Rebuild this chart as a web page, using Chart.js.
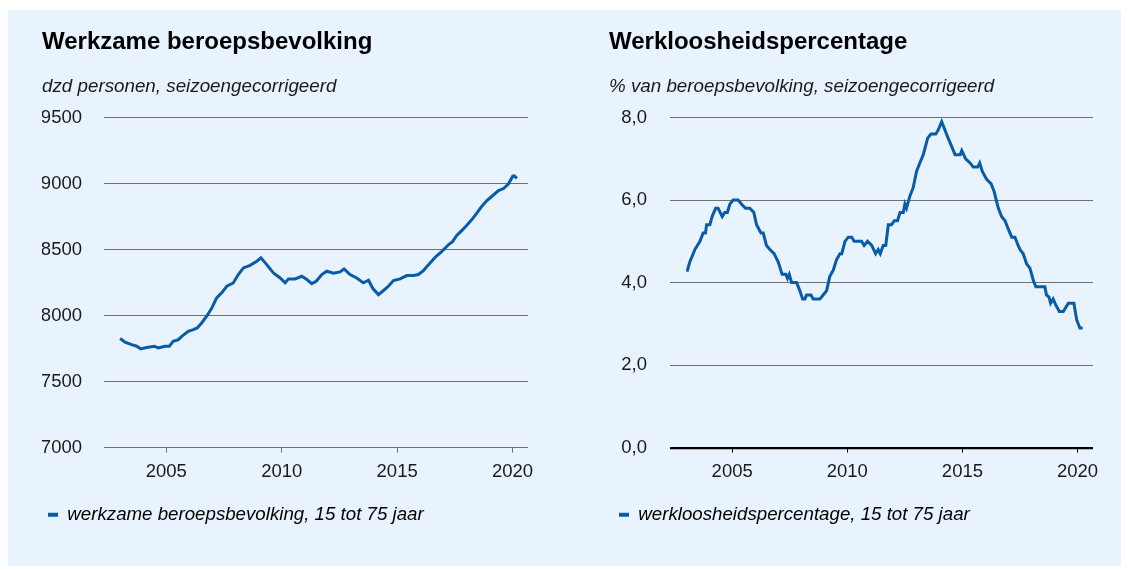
<!DOCTYPE html>
<html lang="nl">
<head>
<meta charset="utf-8">
<script src="https://cdn.jsdelivr.net/npm/chart.js@4"></script>
<style>
    body { margin: 0; background: #ffffff; }
    #paneel { position: absolute; left: 8px; top: 10px; width: 1113px; height: 556px; background: #e9f3fd; }
    canvas { position: absolute; top: 10px; }
    #links { left: 8px; }
    #rechts { left: 564px; }
</style>
</head>
<body>
<div id="paneel"></div>
<canvas id="links" width="556" height="556"></canvas>
<canvas id="rechts" width="557" height="556"></canvas>
<script>
// Werkzame beroepsbevolking (x 1000), tijd als decimaal jaartal
const jarenWerkzaam = [
    2003.00, 2003.21, 2003.50, 2003.72, 2003.89, 2004.15, 2004.48, 2004.65, 2004.94, 2005.13,
    2005.30, 2005.52, 2005.67, 2005.95, 2006.17, 2006.34, 2006.53, 2006.75, 2006.97, 2007.18,
    2007.40, 2007.62, 2007.90, 2008.12, 2008.34, 2008.63, 2008.92, 2009.10, 2009.35, 2009.64,
    2009.93, 2010.15, 2010.29, 2010.58, 2010.87, 2011.09, 2011.30, 2011.49, 2011.74, 2011.95,
    2012.24, 2012.53, 2012.70, 2012.96, 2013.25, 2013.54, 2013.76, 2013.95, 2014.19, 2014.41,
    2014.62, 2014.84, 2015.13, 2015.42, 2015.71, 2015.92, 2016.14, 2016.36, 2016.65, 2016.94,
    2017.23, 2017.40, 2017.59, 2017.80, 2018.02, 2018.24, 2018.46, 2018.67, 2018.89, 2019.11,
    2019.39, 2019.61, 2019.82, 2020.01, 2020.08, 2020.19
];
const werkzaam = [
    7826, 7798, 7780, 7768, 7748, 7758, 7768, 7755, 7768, 7768,
    7806, 7818, 7843, 7881, 7894, 7906, 7944, 7995, 8058, 8134,
    8172, 8222, 8247, 8311, 8361, 8381, 8412, 8437, 8386, 8323,
    8285, 8248, 8278, 8278, 8298, 8273, 8242, 8260, 8311, 8336,
    8321, 8331, 8354, 8311, 8285, 8248, 8268, 8205, 8159, 8190,
    8222, 8265, 8278, 8303, 8303, 8311, 8341, 8386, 8442, 8487,
    8538, 8560, 8609, 8644, 8684, 8727, 8778, 8828, 8871, 8904,
    8947, 8962, 8997, 9056, 9058, 9038
];

// Werkloosheidspercentage
const jarenWerkloos = [
    2003.00, 2003.06, 2003.16, 2003.38, 2003.60, 2003.74, 2003.84, 2003.89, 2004.03, 2004.13,
    2004.28, 2004.39, 2004.57, 2004.68, 2004.79, 2004.90, 2005.04, 2005.26, 2005.41, 2005.58,
    2005.77, 2005.94, 2006.06, 2006.25, 2006.35, 2006.49, 2006.64, 2006.82, 2007.00, 2007.17,
    2007.33, 2007.40, 2007.48, 2007.58, 2007.80, 2007.94, 2008.06, 2008.16, 2008.23, 2008.42,
    2008.52, 2008.81, 2008.95, 2009.10, 2009.24, 2009.39, 2009.53, 2009.68, 2009.76, 2009.90,
    2010.04, 2010.19, 2010.30, 2010.62, 2010.73, 2010.88, 2011.06, 2011.23, 2011.34, 2011.43,
    2011.56, 2011.67, 2011.78, 2011.92, 2012.04, 2012.18, 2012.29, 2012.43, 2012.50, 2012.57,
    2012.72, 2012.86, 2013.01, 2013.15, 2013.30, 2013.49, 2013.63, 2013.84, 2013.95, 2014.10,
    2014.24, 2014.38, 2014.53, 2014.68, 2014.90, 2014.97, 2015.14, 2015.33, 2015.47, 2015.66,
    2015.75, 2015.86, 2016.05, 2016.24, 2016.38, 2016.56, 2016.70, 2016.85, 2016.99, 2017.14,
    2017.28, 2017.42, 2017.50, 2017.64, 2017.79, 2017.93, 2018.08, 2018.19, 2018.44, 2018.58,
    2018.65, 2018.76, 2018.83, 2018.94, 2019.06, 2019.21, 2019.38, 2019.60, 2019.84, 2019.96,
    2020.10, 2020.22
];
const werkloos = [
    4.3, 4.3, 4.5, 4.8, 5.0, 5.2, 5.2, 5.4, 5.4, 5.6,
    5.8, 5.8, 5.6, 5.7, 5.7, 5.9, 6.0, 6.0, 5.9, 5.8,
    5.8, 5.7, 5.4, 5.2, 5.2, 4.9, 4.8, 4.7, 4.5, 4.2,
    4.2, 4.1, 4.2, 4.0, 4.0, 3.8, 3.6, 3.6, 3.7, 3.7,
    3.6, 3.6, 3.7, 3.8, 4.15, 4.3, 4.55, 4.7, 4.7, 5.0,
    5.1, 5.1, 5.0, 5.0, 4.9, 5.0, 4.9, 4.7, 4.8, 4.7,
    4.9, 4.9, 5.4, 5.4, 5.5, 5.5, 5.7, 5.7, 5.9, 5.8,
    6.1, 6.3, 6.7, 6.9, 7.1, 7.5, 7.6, 7.6, 7.7, 7.9,
    7.7, 7.5, 7.3, 7.1, 7.1, 7.2, 7.0, 6.9, 6.8, 6.8,
    6.9, 6.7, 6.5, 6.4, 6.2, 5.8, 5.6, 5.5, 5.3, 5.1,
    5.1, 4.9, 4.8, 4.7, 4.45, 4.35, 4.05, 3.9, 3.9, 3.9,
    3.7, 3.65, 3.5, 3.6, 3.45, 3.3, 3.3, 3.5, 3.5, 3.1,
    2.9, 2.9
];

const jaarTicks = [2005, 2010, 2015, 2020];
const werkzaamTicks = [7000, 7500, 8000, 8500, 9000, 9500];
const werkloosTicks = [0, 2, 4, 6, 8];

const LIJN = '#085ca7';
const RASTER = '#707070';
const TEKST = '#1a1a1a';

Chart.defaults.font.family = "'Liberation Sans', Arial, Helvetica, sans-serif";
Chart.defaults.color = TEKST;

// Grafiek opbouwen
function maakGrafiek(id, cfg) {
    const punten = cfg.jaren.map((j, i) => ({ x: j, y: cfg.waarden[i] }));
    return new Chart(document.getElementById(id), {
        type: 'line',
        data: {
            datasets: [{
                label: cfg.legenda,
                data: punten,
                borderColor: LIJN,
                backgroundColor: LIJN,
                borderWidth: 3,
                pointRadius: 0,
                tension: 0
            }]
        },
        options: {
            responsive: false,
            animation: false,
            devicePixelRatio: 1,
            layout: { padding: { left: cfg.links, right: cfg.rechts, top: 0, bottom: 32 } },
            plugins: {
                tooltip: { enabled: false },
                title: {
                    display: true,
                    text: cfg.titel,
                    align: 'start',
                    color: '#000',
                    font: { size: 24, weight: 'bold' },
                    padding: { top: 17.6, bottom: 19.2 }
                },
                subtitle: {
                    display: true,
                    text: cfg.ondertitel,
                    align: 'start',
                    color: TEKST,
                    font: { size: 18.8, style: 'italic' },
                    padding: { top: 0, bottom: 19.4 }
                },
                legend: {
                    position: 'bottom',
                    align: 'start',
                    labels: {
                        padding: cfg.legPad,
                        boxWidth: 10,
                        boxHeight: 4,
                        color: TEKST,
                        font: { size: 18.7, style: 'italic' },
                        generateLabels: () => [{
                            text: cfg.legenda,
                            fillStyle: LIJN,
                            strokeStyle: LIJN,
                            lineWidth: 0,
                            hidden: false,
                            datasetIndex: 0
                        }]
                    }
                }
            },
            scales: {
                x: {
                    type: 'linear',
                    min: 2002.3,
                    max: 2020.67,
                    border: { display: false },
                    grid: {
                        drawOnChartArea: false,
                        drawTicks: true,
                        tickLength: 5,
                        color: cfg.tickKleur
                    },
                    ticks: {
                        padding: 8,
                        font: { size: 18.5 },
                        color: TEKST,
                        callback: v => String(v)
                    },
                    afterBuildTicks: as => { as.ticks = jaarTicks.map(v => ({ value: v })); },
                    afterFit: as => { as.height = cfg.xHoogte; }
                },
                y: {
                    min: cfg.yTicks[0],
                    max: cfg.yTicks[cfg.yTicks.length - 1],
                    border: { display: false },
                    grid: {
                        drawTicks: false,
                        color: ctx => (cfg.nulZwart && ctx.tick && ctx.tick.value === 0) ? '#000' : RASTER,
                        lineWidth: ctx => (cfg.nulZwart && ctx.tick && ctx.tick.value === 0) ? 2.2 : 1
                    },
                    ticks: {
                        padding: cfg.yPad,
                        font: { size: 18.5 },
                        color: TEKST,
                        callback: cfg.yLabel
                    },
                    afterBuildTicks: as => { as.ticks = cfg.yTicks.map(v => ({ value: v })); },
                    afterFit: as => { as.width = cfg.yBreedte; }
                }
            }
        }
    });
}

maakGrafiek('links', {
    jaren: jarenWerkzaam,
    waarden: werkzaam,
    titel: 'Werkzame beroepsbevolking',
    ondertitel: 'dzd personen, seizoengecorrigeerd',
    legenda: 'werkzame beroepsbevolking, 15 tot 75 jaar',
    links: 34, rechts: 36, legPad: 6, xHoogte: 51.7,
    yBreedte: 62, yPad: 22,
    yTicks: werkzaamTicks,
    yLabel: v => String(v),
    tickKleur: RASTER,
    nulZwart: false
});

maakGrafiek('rechts', {
    jaren: jarenWerkloos,
    waarden: werkloos,
    titel: 'Werkloosheidspercentage',
    ondertitel: '% van beroepsbevolking, seizoengecorrigeerd',
    legenda: 'werkloosheidspercentage, 15 tot 75 jaar',
    links: 45, rechts: 28, legPad: 10, xHoogte: 47.7,
    yBreedte: 61, yPad: 23,
    yTicks: werkloosTicks,
    yLabel: v => v.toFixed(1).replace('.', ','),
    tickKleur: '#000',
    nulZwart: true
});
</script>
</body>
</html>
